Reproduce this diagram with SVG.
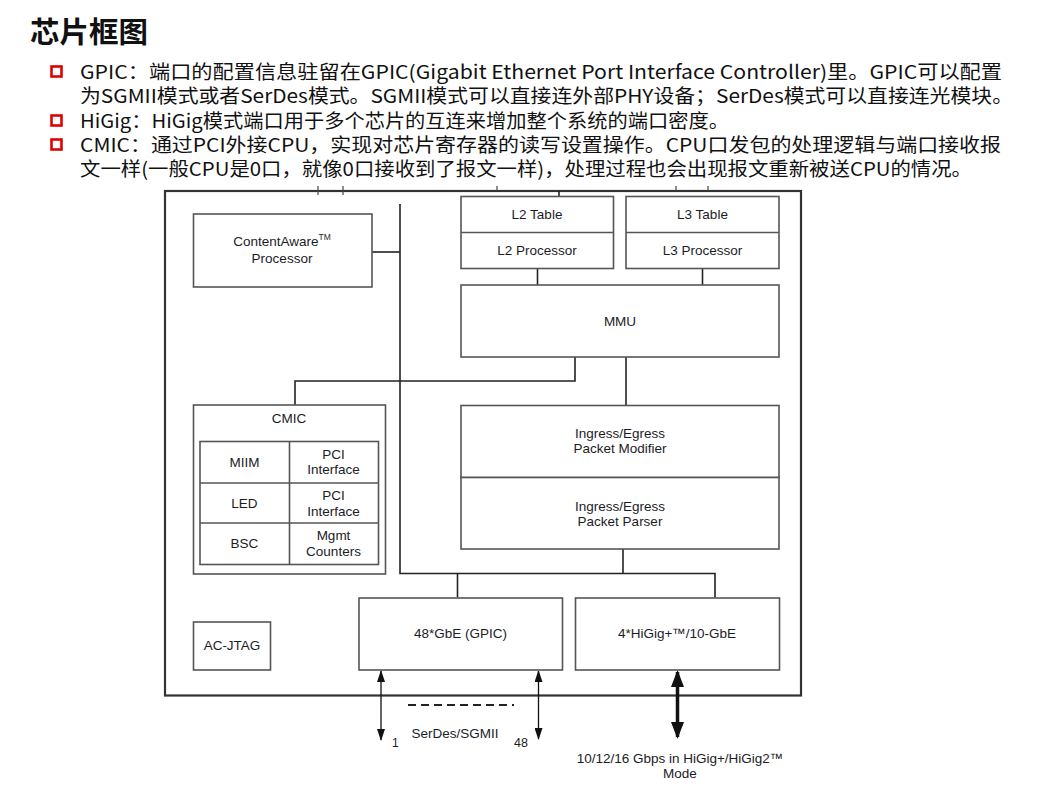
<svg xmlns="http://www.w3.org/2000/svg" width="1050" height="788" viewBox="0 0 1050 788">
<style>
.hd{font-family:"Noto Sans CJK SC","Noto Sans",sans-serif;fill:#111;}
.bl{fill:none;stroke:#e00000;stroke-width:2.6;}
.box{fill:#fff;stroke:#555;stroke-width:1.6;}
.lbl{font-family:"Liberation Sans",Arial,sans-serif;font-size:13.5px;fill:#1c1c28;text-anchor:middle;}
.ln{fill:none;stroke:#222;stroke-width:1.6;}
.outer{fill:#fff;stroke:#333;stroke-width:2.2;}
</style>
<defs>
<marker id="ah" markerUnits="userSpaceOnUse" markerWidth="12" markerHeight="8" refX="11" refY="4" orient="auto-start-reverse"><path d="M0,0 L12,4 L0,8 z" fill="#111"/></marker>
<marker id="ahT" markerUnits="userSpaceOnUse" markerWidth="17" markerHeight="13" refX="15" refY="6.5" orient="auto-start-reverse"><path d="M0,0 L17,6.5 L0,13 z" fill="#111"/></marker>
</defs>
<rect width="1050" height="788" fill="#fff"/>
<g id="header">
<text class="hd" x="30" y="43" font-size="29" font-weight="bold" textLength="118" lengthAdjust="spacingAndGlyphs">芯片框图</text>
<rect class="bl" x="51.5" y="66.5" width="10" height="10"/>
<rect class="bl" x="51.5" y="115.5" width="10" height="10"/>
<rect class="bl" x="51.5" y="139.5" width="10" height="10"/>
<text class="hd" x="80" y="79" font-size="19" textLength="922" lengthAdjust="spacingAndGlyphs">GPIC：端口的配置信息驻留在GPIC(Gigabit Ethernet Port Interface Controller)里。GPIC可以配置</text>
<text class="hd" x="80" y="103" font-size="19" textLength="933" lengthAdjust="spacingAndGlyphs">为SGMII模式或者SerDes模式。SGMII模式可以直接连外部PHY设备；SerDes模式可以直接连光模块。</text>
<text class="hd" x="80" y="128" font-size="19" textLength="649" lengthAdjust="spacingAndGlyphs">HiGig：HiGig模式端口用于多个芯片的互连来增加整个系统的端口密度。</text>
<text class="hd" x="80" y="152" font-size="19" textLength="921" lengthAdjust="spacingAndGlyphs">CMIC：通过PCI外接CPU，实现对芯片寄存器的读写设置操作。CPU口发包的处理逻辑与端口接收报</text>
<text class="hd" x="80" y="176" font-size="19" textLength="892" lengthAdjust="spacingAndGlyphs">文一样(一般CPU是0口，就像0口接收到了报文一样)，处理过程也会出现报文重新被送CPU的情况。</text>
</g>
<g id="chip">
<rect class="outer" x="165" y="191" width="636" height="504.5"/>
<path d="M318,186 V195 M343,186 V195 M497,186 V191 M676,186 V191 M708,186 V191" stroke="#444" stroke-width="1.2" fill="none"/>
</g>
<g id="connectors">
<path class="ln" d="M559,191 V197"/>
<path class="ln" d="M400,204 V573.5 H715 V597.5"/>
<path class="ln" d="M372,252 H400"/>
<path class="ln" d="M623,549 V573.5"/>
<path class="ln" d="M457.5,573.5 V597.5"/>
<path class="ln" d="M537.5,268.5 V285"/>
<path class="ln" d="M702.5,268.5 V285"/>
<path class="ln" d="M575,357 V381 H295 V405"/>
<path class="ln" d="M626,357 V405.5"/>
<line x1="381" y1="671" x2="381" y2="740" stroke="#111" stroke-width="1.3" marker-start="url(#ah)" marker-end="url(#ah)"/>
<line x1="538.5" y1="671" x2="538.5" y2="739" stroke="#111" stroke-width="1.3" marker-start="url(#ah)" marker-end="url(#ah)"/>
<line x1="677.5" y1="672" x2="677.5" y2="737" stroke="#111" stroke-width="3.5" marker-start="url(#ahT)" marker-end="url(#ahT)"/>
<line x1="408" y1="705" x2="514" y2="705" stroke="#222" stroke-width="2" stroke-dasharray="8,5"/>
</g>
<g id="contentaware">
<rect class="box" x="193.5" y="214" width="178.5" height="73"/>
<text class="lbl" x="282" y="246">ContentAware<tspan font-size="8.5" dy="-6">TM</tspan></text>
<text class="lbl" x="282" y="263">Processor</text>
</g>
<g id="l2">
<rect class="box" x="461" y="196.5" width="152.5" height="72"/>
<line x1="461" y1="232.5" x2="613.5" y2="232.5" stroke="#555" stroke-width="1.6"/>
<text class="lbl" x="537" y="219">L2 Table</text>
<text class="lbl" x="537" y="255">L2 Processor</text>
</g>
<g id="l3">
<rect class="box" x="626" y="196.5" width="153" height="72"/>
<line x1="626" y1="232.5" x2="779" y2="232.5" stroke="#555" stroke-width="1.6"/>
<text class="lbl" x="702.5" y="219">L3 Table</text>
<text class="lbl" x="702.5" y="255">L3 Processor</text>
</g>
<g id="mmu">
<rect class="box" x="461" y="285" width="318" height="72"/>
<text class="lbl" x="620" y="325.5">MMU</text>
</g>
<g id="modifier">
<rect class="box" x="461" y="405.5" width="318" height="72"/>
<text class="lbl" x="620" y="438">Ingress/Egress</text>
<text class="lbl" x="620" y="453">Packet Modifier</text>
</g>
<g id="parser">
<rect class="box" x="461" y="477.5" width="318" height="71.5"/>
<text class="lbl" x="620" y="511">Ingress/Egress</text>
<text class="lbl" x="620" y="526">Packet Parser</text>
</g>
<g id="cmic">
<rect class="box" x="193.5" y="405" width="192" height="169"/>
<text class="lbl" x="289" y="423">CMIC</text>
<rect class="box" x="200" y="441.5" width="178.5" height="123"/>
<path d="M289.5,441.5 V564.5 M200,483 H378.5 M200,523 H378.5" stroke="#555" stroke-width="1.6" fill="none"/>
<text class="lbl" x="244.5" y="467">MIIM</text>
<text class="lbl" x="333.5" y="459">PCI</text>
<text class="lbl" x="333.5" y="474">Interface</text>
<text class="lbl" x="244.5" y="507.5">LED</text>
<text class="lbl" x="333.5" y="500">PCI</text>
<text class="lbl" x="333.5" y="515.5">Interface</text>
<text class="lbl" x="244.5" y="548">BSC</text>
<text class="lbl" x="333.5" y="540">Mgmt</text>
<text class="lbl" x="333.5" y="556">Counters</text>
</g>
<g id="acjtag">
<rect class="box" x="193.5" y="622" width="77" height="48"/>
<text class="lbl" x="232" y="650">AC-JTAG</text>
</g>
<g id="gpic">
<rect class="box" x="359" y="598" width="203.5" height="72"/>
<text class="lbl" x="460.5" y="638">48*GbE (GPIC)</text>
</g>
<g id="higig">
<rect class="box" x="575.5" y="598" width="204" height="72"/>
<text class="lbl" x="677" y="638">4*HiGig+™/10-GbE</text>
</g>
<g id="labels">
<text class="lbl" x="392" y="747" style="text-anchor:start;font-size:12px">1</text>
<text class="lbl" x="521" y="747" style="font-size:12.5px">48</text>
<text class="lbl" x="455" y="738">SerDes/SGMII</text>
<text class="lbl" x="680" y="763">10/12/16 Gbps in HiGig+/HiGig2™</text>
<text class="lbl" x="680" y="778">Mode</text>
</g>
</svg>
